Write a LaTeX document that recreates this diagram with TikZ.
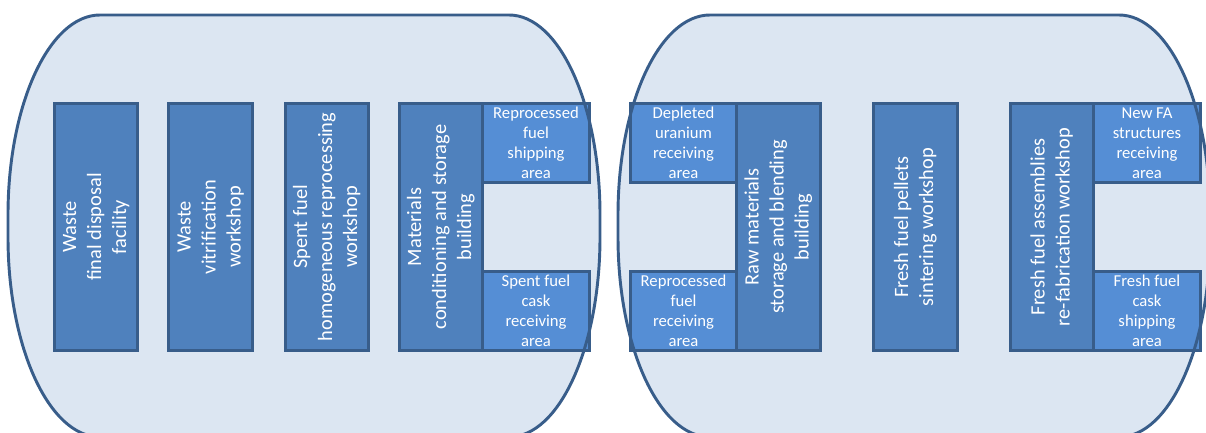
\documentclass[tikz,border=0pt]{standalone}
\usepackage{fontspec}
\setmainfont{Carlito}
\usepackage{graphicx}
\usepackage{tikz}
\usetikzlibrary{positioning}
\definecolor{capfill}{HTML}{DCE6F2}
\definecolor{capline}{HTML}{385D8A}
\definecolor{bldgfill}{HTML}{4F81BD}
\definecolor{areafill}{HTML}{558ED5}
\def\vtext#1{\rotatebox{90}{\begin{tabular}{@{}c@{}}#1\end{tabular}}}
\def\site#1{(#1+92,417) -- (#1+501,417)
  arc[start angle=90,end angle=0,x radius=91,y radius=200] -- ++(0,-22)
  arc[start angle=0,end angle=-90,x radius=91,y radius=200] -- (#1+92,-5)
  arc[start angle=270,end angle=180,x radius=92,y radius=200] -- ++(0,22)
  arc[start angle=180,end angle=90,x radius=92,y radius=200] -- cycle}
\tikzset{
  bldg/.style={draw=capline, fill=bldgfill, line width=2.2pt, text=white,
    minimum width=62.5pt, minimum height=185.5pt, inner sep=0pt, outer sep=0pt,
    font=\fontsize{15.3}{18.75}\selectfont},
  area/.style={draw=capline, fill=areafill, line width=2.2pt, text=white,
    minimum width=80pt, minimum height=59.5pt, inner sep=0pt, outer sep=0pt,
    align=center, font=\fontsize{12.5}{15}\selectfont},
  siteline/.style={draw=capline, line width=2.2pt}
}
\begin{document}
\begin{tikzpicture}[x=0.75pt,y=0.75pt]
    \useasboundingbox (0,0) rectangle (1206,432);
    \clip (0,0) rectangle (1206,432);
    \fill[capfill] \site{8};
    \fill[capfill] \site{618};
    % reprocessing site
    \node[bldg] (disposal) at (96,205) {\vtext{Waste\\final disposal\\facility}};
    \node[bldg] (vitrif) at (210.5,205) {\vtext{Waste\\vitrification\\workshop}};
    \node[bldg] (reproc) at (327,205) {\vtext{Spent fuel\\homogeneous reprocessing\\workshop}};
    \node[bldg] (matstore) at (441,205) {\vtext{Materials\\conditioning and storage\\building}};
    \node[area, anchor=north west] (shipout) at (matstore.north east) {Reprocessed\\fuel\\shipping\\area};
    \node[area, anchor=south west] (caskin) at (matstore.south east) {Spent fuel\\cask\\receiving\\area};
    % refabrication site
    \node[bldg] (rawstore) at (778.5,205) {\vtext{Raw materials\\storage and blending\\building}};
    \node[area, anchor=north east] (depleted) at (rawstore.north west) {Depleted\\uranium\\receiving\\area};
    \node[area, anchor=south east] (fuelin) at (rawstore.south west) {Reprocessed\\fuel\\receiving\\area};
    \node[bldg] (pellets) at (915.5,205) {\vtext{Fresh fuel pellets\\sintering workshop}};
    \node[bldg] (refab) at (1052,205) {\vtext{Fresh fuel assemblies\\re-fabrication workshop}};
    \node[area, anchor=north west] (structin) at (refab.north east) {New FA\\structures\\receiving\\area};
    \node[area, anchor=south west] (caskout) at (refab.south east) {Fresh fuel\\cask\\shipping\\area};
    \draw[siteline] \site{8};
    \draw[siteline] \site{618};
\end{tikzpicture}
\end{document}
